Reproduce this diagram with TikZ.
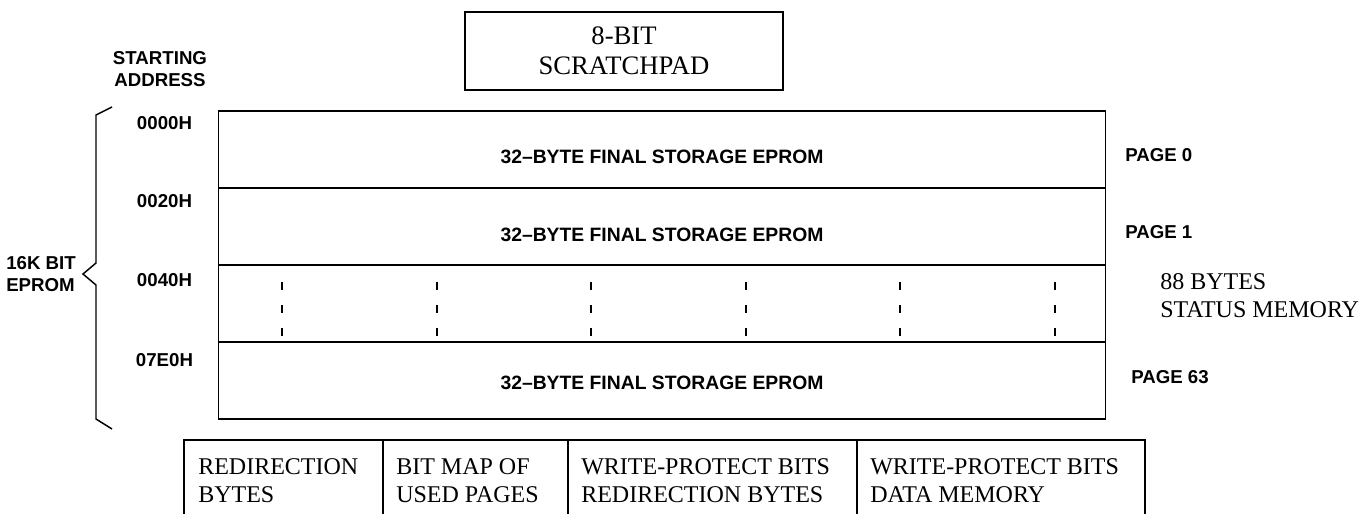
\documentclass[tikz,border=0pt]{standalone}
\usepackage{fontspec}
\setmainfont{Liberation Serif}
\setsansfont{Liberation Sans}
\usepackage{tikz}
\usetikzlibrary{calc,positioning}
\tikzstyle{memmap}=[
  x=0.75pt,y=-0.75pt,line join=miter
]
\tikzstyle{rowbox}=[
  draw,line width=1.3pt,inner sep=0pt,minimum width=665.25pt,minimum height=57.75pt
]
\tikzstyle{padbox}=[
  draw,line width=1.4pt,inner sep=0pt,minimum width=238.5pt,minimum height=58.5pt,
  align=center,font=\fontsize{20}{22.5}\selectfont
]
\tikzstyle{addr}=[
  inner sep=0pt,align=left,font=\sffamily\bfseries\fontsize{14}{16.5}\selectfont
]
\tikzstyle{rowtext}=[
  inner sep=0pt,font=\sffamily\bfseries\fontsize{14.5}{17}\selectfont
]
\tikzstyle{note}=[
  inner sep=0pt,anchor=west,align=left,font=\fontsize{18}{21}\selectfont
]
\tikzset{
  celllines/.style={line width=1.4pt},
  gap/.style={line width=1.5pt,dash pattern=on 6pt off 11.25pt},
  brace/.style={line width=1.1pt},
}

\begin{document}
\begin{tikzpicture}[memmap]
        \def\rowh{77}
        \useasboundingbox (0,0) rectangle (1365,514);

        \node (pad) at (624,51) [padbox] {8-BIT\\SCRATCHPAD};
        \node (start) at (160,69) [addr,align=center] {STARTING\\ADDRESS};

        \node (row0) at (662,149.5) [rowbox] {};
        \node (row1) at ($(row0) + (0,\rowh)$) [rowbox] {};
        \node (rowdots) at ($(row1) + (0,\rowh)$) [rowbox] {};
        \node (row63) at ($(rowdots) + (0,\rowh)$) [rowbox] {};

        \node (eprom0) at ($(row0) + (0,7)$) [rowtext] {32--BYTE FINAL STORAGE EPROM};
        \node (eprom1) at ($(row1) + (0,8)$) [rowtext] {32--BYTE FINAL STORAGE EPROM};
        \node (eprom63) at ($(row63) + (0,2)$) [rowtext] {32--BYTE FINAL STORAGE EPROM};

        \foreach \i in {0,...,5}
          \draw [gap] (282+154.6*\i,282) -- ++(0,54);

        \node (a0) at (164.5,123) [addr] {0000H};
        \node (a1) at (164.5,201) [addr] {0020H};
        \node (a2) at (164.5,280) [addr] {0040H};
        \node (a63) at (164.5,360) [addr] {07E0H};

        \node (p0) at (1125,155) [addr,anchor=west] {PAGE 0};
        \node (p1) at (1125,232) [addr,anchor=west] {PAGE 1};
        \node (p63) at (1131,377) [addr,anchor=west] {PAGE 63};
        \node (status) at (1160,296) [note] {88 BYTES\\STATUS MEMORY};

        \node (bits) at (6,274) [addr,anchor=west] {16K BIT\\EPROM};
        \draw [brace] (112,107) -- (96,115) -- (96,263) -- (83,274)
          -- (96,285) -- (96,419) -- (112,429);

        \draw [celllines] (184,514) |- (1145,440) -- (1145,514);
        \foreach \x in {383,568,857}
          \draw [celllines] (\x,440) -- (\x,514);
        \node (redir) at (198,481) [note] {REDIRECTION\\BYTES};
        \node (bitmap) at (396,481) [note] {BIT MAP OF\\USED PAGES};
        \node (wpredir) at (581,481) [note] {WRITE-PROTECT BITS\\REDIRECTION BYTES};
        \node (wpdata) at (870,481) [note] {WRITE-PROTECT BITS\\DATA MEMORY};
\end{tikzpicture}
\end{document}
